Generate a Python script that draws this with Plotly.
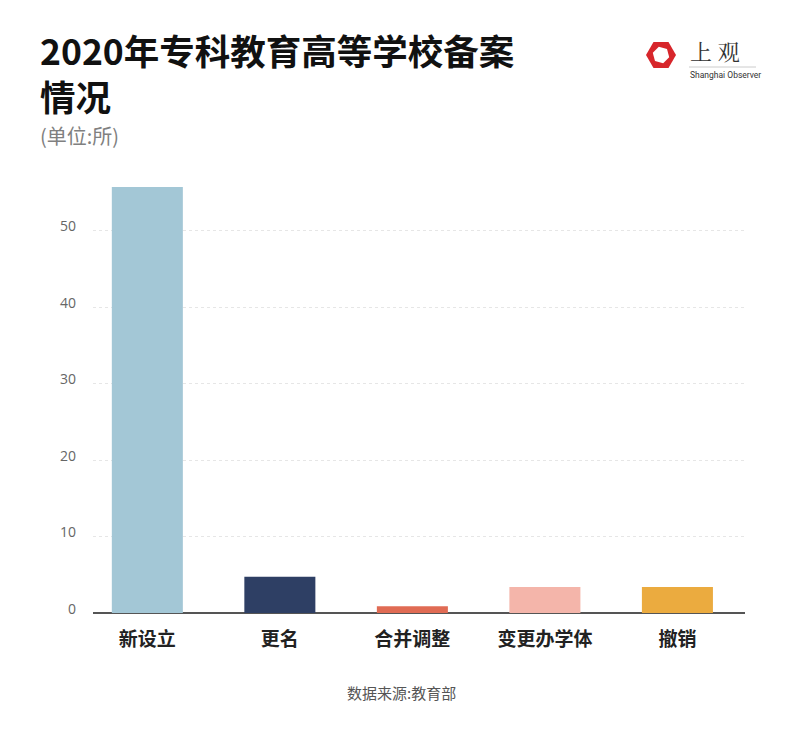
import math
import plotly.graph_objects as go

# data
categories = ["新设立", "更名", "合并调整", "变更办学体", "撤销"]
counts = [55.7, 4.75, 0.87, 3.4, 3.4]
bar_colors = ["#a3c7d6", "#2e3f64", "#e06b54", "#f4b5aa", "#ebab3f"]
tick_vals = [0, 10, 20, 30, 40, 50]

OFF = 8  # page body margin shifts the figure by 8px
W, H = 800, 745
# target plot area on screen: x 93..745, y 154..613
L, T = 93 - OFF, 154 - OFF
R, B = W - (745 - OFF), H - (613 - OFF)
CJK = "Noto Sans CJK SC"


def px(x, y):
    """screen pixel position -> paper coords"""
    x, y = x - OFF, y - OFF
    return (x - L) / (W - L - R), (H - B - y) / (H - T - B)


fig = go.Figure()
fig.add_trace(go.Bar(
    x=categories, y=counts,
    marker=dict(color=bar_colors, line=dict(width=0)),
    width=0.536, showlegend=False, hoverinfo="x+y",
))

fig.update_layout(
    width=W, height=H,
    margin=dict(l=L, r=R, t=T, b=B),
    paper_bgcolor="white", plot_bgcolor="white",
    font=dict(family=CJK, color="#666"),
)
fig.update_xaxes(
    range=[-0.41, 4.51], showgrid=False, showline=False, ticks="",
    tickfont=dict(size=19, color="#222", family=CJK, weight="bold"),
    ticklabelstandoff=13,
)
fig.update_yaxes(
    range=[0, 60], tickvals=tick_vals, showgrid=True, gridcolor="#e6e6e6",
    griddash="dot", gridwidth=1, zeroline=True, zerolinecolor="#555",
    zerolinewidth=2, showline=False, ticks="",
    tickfont=dict(size=14, color="#666", family="Open Sans"),
    ticklabelstandoff=16, ticklabelshift=-4,
)


def note(text, x, y, size, color, family=CJK, anchor="left", weight="normal"):
    ax, ay = px(x, y)
    return dict(text=text, x=ax, y=ay, xref="paper", yref="paper",
                xanchor=anchor, yanchor="middle", showarrow=False, align="left",
                font=dict(size=size, color=color, family=family, weight=weight))


ann = [
    note("2020年专科教育高等学校备案<br>情况", 38, 73, 35.5, "#111", weight="bold"),
    note("(单位:所)", 38, 136, 20, "#808080"),
    note("数据来源:教育部", 401, 692, 15, "#555", anchor="center"),
    note("上 观", 688, 51, 22, "#333", family="Noto Serif CJK SC, serif"),
    note("Shanghai Observer", 688, 75, 8.5, "#333", family="Roboto"),
]

# logo: red hexagon with white core
hx, hy = 661, 55


def poly(cx0, cy0, r, rot):
    pts = []
    for k in range(6):
        a = math.radians(60 * k + rot)
        pts.append(px(cx0 + r * math.cos(a), cy0 + r * math.sin(a)))
    return "M " + " L ".join(f"{p[0]:.5f},{p[1]:.5f}" for p in pts) + " Z"


lx0, ly = px(689, 67)
lx1, _ = px(756, 67)
shapes = [
    dict(type="path", path=poly(hx, hy, 15, 0), xref="paper", yref="paper",
         fillcolor="#d7262b", line=dict(width=0)),
    dict(type="path", path=poly(hx, hy, 8.5, 15), xref="paper", yref="paper",
         fillcolor="white", line=dict(width=0)),
    dict(type="line", x0=lx0, x1=lx1, y0=ly, y1=ly, xref="paper", yref="paper",
         line=dict(color="#ccc", width=1)),
]

fig.update_layout(annotations=ann, shapes=shapes)
fig.write_html("out.html")
